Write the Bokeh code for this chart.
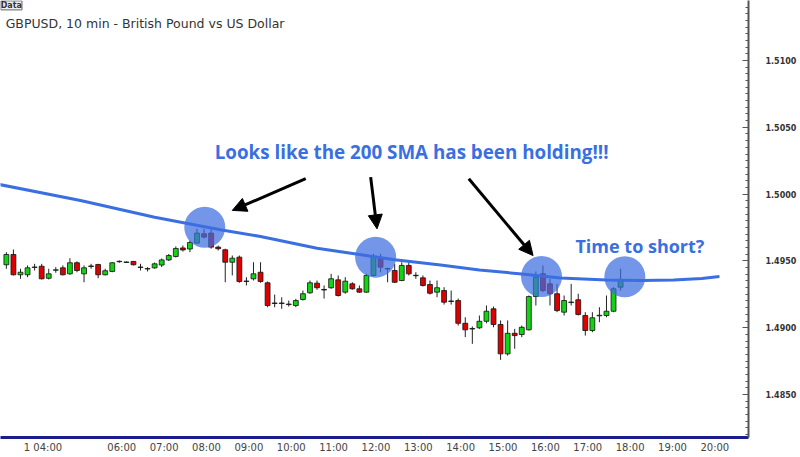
from bokeh.plotting import figure
from bokeh.models import Range1d, FixedTicker, Label, Arrow, NormalHead, ColumnDataSource, PrintfTickFormatter
from bokeh.embed import file_html
from bokeh.resources import INLINE

def hm(s):
    h, m = s.split(":")
    return int(h) + int(m) / 60.0

# ---- data -------------------------------------------------------------
first_candle = "03:40"          # 10 minute candles
opens = [1.49471, 1.49548, 1.49396, 1.49396, 1.49451, 1.49460, 1.49370, 1.49430, 1.49448, 1.49403,
         1.49486, 1.49403, 1.49462, 1.49473, 1.49396, 1.49421, 1.49497, 1.49488, 1.49496, 1.49454,
         1.49439, 1.49448, 1.49469, 1.49507, 1.49533, 1.49597, 1.49589, 1.49633, 1.49703, 1.49708,
         1.49603, 1.49583, 1.49490, 1.49528, 1.49349, 1.49366, 1.49415, 1.49336, 1.49185, 1.49181,
         1.49177, 1.49166, 1.49211, 1.49261, 1.49333, 1.49286, 1.49299, 1.49358, 1.49266, 1.49328,
         1.49291, 1.49266, 1.49391, 1.49516, 1.49439, 1.49428, 1.49353, 1.49466, 1.49392, 1.49373,
         1.49323, 1.49266, 1.49278, 1.49200, 1.49203, 1.49033, 1.48990, 1.48999, 1.49048, 1.49141,
         1.49024, 1.48804, 1.48958, 1.48949, 1.48984, 1.49233, 1.49403, 1.49328, 1.49254, 1.49116,
         1.49188, 1.49209, 1.49091, 1.48979, 1.49089, 1.49091, 1.49123, 1.49303]
highs = [1.49565, 1.49585, 1.49441, 1.49466, 1.49478, 1.49478, 1.49441, 1.49453, 1.49466, 1.49520,
         1.49496, 1.49466, 1.49478, 1.49478, 1.49441, 1.49490, 1.49503, 1.49496, 1.49499, 1.49478,
         1.49453, 1.49488, 1.49518, 1.49552, 1.49608, 1.49615, 1.49653, 1.49740, 1.49740, 1.49740,
         1.49615, 1.49591, 1.49540, 1.49540, 1.49378, 1.49490, 1.49490, 1.49346, 1.49248, 1.49228,
         1.49203, 1.49216, 1.49278, 1.49353, 1.49353, 1.49316, 1.49403, 1.49391, 1.49378, 1.49340,
         1.49316, 1.49403, 1.49553, 1.49553, 1.49448, 1.49478, 1.49490, 1.49490, 1.49415, 1.49391,
         1.49353, 1.49353, 1.49303, 1.49278, 1.49218, 1.49078, 1.49009, 1.49091, 1.49166, 1.49158,
         1.49054, 1.49054, 1.48991, 1.49016, 1.49241, 1.49421, 1.49466, 1.49366, 1.49328, 1.49241,
         1.49328, 1.49254, 1.49116, 1.49116, 1.49153, 1.49241, 1.49303, 1.49441]
lows = [1.49441, 1.49391, 1.49366, 1.49378, 1.49428, 1.49361, 1.49361, 1.49411, 1.49391, 1.49396,
        1.49415, 1.49340, 1.49441, 1.49370, 1.49391, 1.49415, 1.49486, 1.49484, 1.49466, 1.49428,
        1.49421, 1.49441, 1.49454, 1.49499, 1.49525, 1.49570, 1.49565, 1.49628, 1.49666, 1.49591,
        1.49578, 1.49340, 1.49391, 1.49336, 1.49316, 1.49353, 1.49336, 1.49153, 1.49153, 1.49141,
        1.49158, 1.49153, 1.49203, 1.49254, 1.49284, 1.49218, 1.49291, 1.49233, 1.49254, 1.49284,
        1.49261, 1.49261, 1.49383, 1.49415, 1.49340, 1.49334, 1.49348, 1.49391, 1.49366, 1.49308,
        1.49248, 1.49228, 1.49173, 1.49173, 1.49016, 1.48929, 1.48879, 1.48991, 1.49033, 1.49003,
        1.48759, 1.48791, 1.48842, 1.48929, 1.48979, 1.49166, 1.49266, 1.49166, 1.49116, 1.49091,
        1.49166, 1.49091, 1.48941, 1.48966, 1.49041, 1.49078, 1.49116, 1.49278]
closes = [1.49548, 1.49396, 1.49415, 1.49448, 1.49454, 1.49366, 1.49403, 1.49433, 1.49396, 1.49486,
          1.49428, 1.49448, 1.49458, 1.49396, 1.49426, 1.49486, 1.49494, 1.49492, 1.49471, 1.49451,
          1.49443, 1.49478, 1.49507, 1.49540, 1.49593, 1.49582, 1.49638, 1.49708, 1.49678, 1.49603,
          1.49591, 1.49490, 1.49520, 1.49346, 1.49346, 1.49403, 1.49346, 1.49166, 1.49181, 1.49185,
          1.49173, 1.49203, 1.49254, 1.49336, 1.49299, 1.49282, 1.49366, 1.49241, 1.49348, 1.49291,
          1.49266, 1.49391, 1.49528, 1.49453, 1.49443, 1.49340, 1.49466, 1.49403, 1.49389, 1.49316,
          1.49258, 1.49299, 1.49191, 1.49196, 1.49033, 1.48984, 1.48994, 1.49048, 1.49123, 1.49024,
          1.48804, 1.48958, 1.48941, 1.49003, 1.49233, 1.49378, 1.49278, 1.49254, 1.49128, 1.49203,
          1.49192, 1.49099, 1.48979, 1.49074, 1.49093, 1.49123, 1.49291, 1.49353]

sma_times = ["03:30", "05:25", "07:10", "08:45", "09:40", "11:00", "12:00", "12:50", "13:55",
             "14:50", "15:50", "16:45", "17:50", "18:40", "19:25", "20:05", "20:30"]
sma_values = [1.50072, 1.49952, 1.49827, 1.49731, 1.49683, 1.49595, 1.49548, 1.49508, 1.49469,
              1.49432, 1.49402, 1.49372, 1.49357, 1.49353, 1.49357, 1.49368, 1.49383]

hour_ticks = [4, 6, 7, 8, 9, 10, 11, 12, 13, 14, 15, 16, 17, 18, 19, 20]
hour_labels = ["1 04:00", "06:00", "07:00", "08:00", "09:00", "10:00", "11:00", "12:00", "13:00",
               "14:00", "15:00", "16:00", "17:00", "18:00", "19:00", "20:00"]
price_ticks = [1.4850, 1.4900, 1.4950, 1.5000, 1.5050, 1.5100]

circle_times = ["08:21", "12:23", "16:18", "18:16"]
circle_prices = [1.49752, 1.49528, 1.49383, 1.49381]

arrow_tails = [("10:44", 1.50115), ("12:16", 1.50127), ("14:35", 1.50115)]
arrow_tips = [("09:00", 1.49878), ("12:25", 1.49740), ("16:06", 1.49540)]

title_text = "GBPUSD, 10 min - British Pound vs US Dollar"
note_main = "Looks like the 200 SMA has been holding!!!"
note_short = "Time to short?"

# ---- build ------------------------------------------------------------
BLUE = "#3a6fe2"
t0 = hm(first_candle)
times = [t0 + i / 6.0 for i in range(len(opens))]
up = [c >= o for o, c in zip(opens, closes)]
src = ColumnDataSource(dict(
    t=times, o=opens, h=highs, l=lows, c=closes,
    top=[max(o, c) for o, c in zip(opens, closes)],
    bot=[min(o, c) for o, c in zip(opens, closes)],
    col=["#12d412" if u else "#dc0000" for u in up],
))

p = figure(width=800, height=457, output_backend="svg", toolbar_location=None,
           x_range=Range1d(3.528, 21.186), y_range=Range1d(1.48178, 1.51449),
           y_axis_location="right", min_border_left=0, min_border_top=0,
           min_border_right=52, min_border_bottom=20)
p.background_fill_color = "white"
p.border_fill_color = "white"
p.outline_line_color = None
p.grid.visible = False

# x axis: labels sit just right of each hour mark
label_pos = [h + (0.531 if i == 0 else 0.391) for i, h in enumerate(hour_ticks)]
xa = p.xaxis[0]
xa.ticker = FixedTicker(ticks=label_pos, minor_ticks=[])
xa.major_label_overrides = {k: v for k, v in zip(label_pos, hour_labels)}
xa.major_label_text_font = "DejaVu Sans"
xa.major_label_text_font_size = "10px"
xa.major_label_text_color = "#444444"
xa.major_tick_in = 0
xa.major_tick_out = 0
xa.major_label_standoff = 4
xa.axis_line_color = "#1c1c8c"
xa.axis_line_width = 3

# y axis
ya = p.yaxis[0]
ya.ticker = FixedTicker(ticks=price_ticks,
                        minor_ticks=[round(1.4820 + 0.0005 * k, 4) for k in range(66)])
ya.formatter = PrintfTickFormatter(format="%.4f")
ya.major_label_text_font = "DejaVu Sans"
ya.major_label_text_font_style = "bold"
ya.major_label_text_font_size = "8px"
ya.major_label_text_color = "#333333"
ya.major_tick_in = 6
ya.major_tick_out = 0
ya.minor_tick_in = 3
ya.minor_tick_out = 0
ya.major_tick_line_color = "#555555"
ya.minor_tick_line_color = "#555555"
ya.axis_line_color = "#555555"
ya.axis_line_width = 2
ya.major_label_standoff = 17

# candles
p.segment(x0="t", y0="h", x1="t", y1="l", source=src, line_color="#222222", line_width=1)
p.vbar(x="t", top="top", bottom="bot", width=0.115, source=src,
       fill_color="col", line_color="#111111", line_width=0.8)

# 200 SMA
p.line([hm(s) for s in sma_times], sma_values, line_color=BLUE, line_width=3)

# highlight circles
p.scatter([hm(s) for s in circle_times], circle_prices, marker="circle", size=41,
          fill_color="#3d6ee0", fill_alpha=0.72, line_color=None)

# arrows
for (ts, ps), (te, pe) in zip(arrow_tails, arrow_tips):
    p.add_layout(Arrow(end=NormalHead(size=14, fill_color="black", line_color="black"),
                       x_start=hm(ts), y_start=ps, x_end=hm(te), y_end=pe,
                       line_color="black", line_width=3))

# texts
p.add_layout(Label(x=hm("13:14"), y=1.50314, text=note_main, text_align="center",
                   text_baseline="alphabetic",
                   text_font="Open Sans", text_font_style="bold", text_font_size="18.8px",
                   text_color=BLUE))
p.add_layout(Label(x=hm("17:06"), y=1.49612, text=note_short, text_align="left",
                   text_baseline="alphabetic",
                   text_font="Open Sans", text_font_style="bold", text_font_size="18px",
                   text_color=BLUE))
p.add_layout(Label(x=hm("03:39"), y=1.51274, text=title_text, text_align="left",
                   text_baseline="alphabetic",
                   text_font="DejaVu Sans", text_font_size="12.5px", text_color="#333333"))
p.add_layout(Label(x=hm("03:32"), y=1.51446, text="Data", text_align="left",
                   text_baseline="top", text_font="DejaVu Sans", text_font_style="bold",
                   text_font_size="8px", text_color="#333333",
                   border_line_color="#666666", background_fill_color="#f0f0f0"))

open("out.html", "w").write(file_html(p, INLINE))
